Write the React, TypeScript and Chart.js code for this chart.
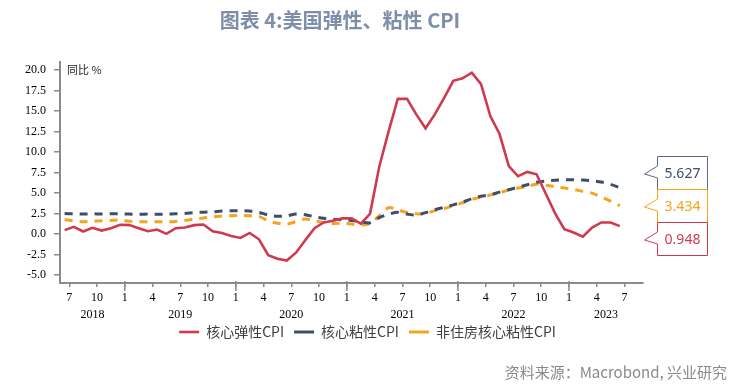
import React, { useEffect, useRef } from 'react';
import { Chart, registerables } from 'chart.js';

Chart.register(...registerables);

// ---------- data ----------
const startYear = 2018;
const startMonth = 6; // first observation: June 2018

const seriesNames = ['核心弹性CPI', '核心粘性CPI', '非住房核心粘性CPI'];

const elasticCPI = [
  0.46, 0.86, 0.29, 0.74, 0.41, 0.70, 1.11, 1.07, 0.70, 0.33,
  0.53, 0.00, 0.70, 0.78, 1.07, 1.15, 0.33, 0.12, -0.25, -0.49,
  0.12, -0.66, -2.59, -3.04, -3.25, -2.30, -0.78, 0.70, 1.40, 1.60,
  1.89, 1.89, 1.25, 2.45, 8.2, 12.5, 16.5, 16.5, 14.6, 12.9,
  14.6, 16.6, 18.7, 19.0, 19.7, 18.3, 14.4, 12.2, 8.27, 7.04,
  7.57, 7.28, 4.9, 2.5, 0.58, 0.16, -0.33, 0.78, 1.4, 1.4,
  0.948,
];

const stickyCPI = [
  2.5, 2.45, 2.42, 2.45, 2.42, 2.45, 2.45, 2.42, 2.4, 2.42,
  2.4, 2.42, 2.45, 2.5, 2.6, 2.65, 2.7, 2.8, 2.82, 2.84,
  2.8, 2.63, 2.3, 2.15, 2.2, 2.43, 2.35, 2.1, 1.9, 1.8,
  1.73, 1.65, 1.5, 1.35, 2.0, 2.4, 2.63, 2.43, 2.3, 2.6,
  2.95, 3.25, 3.55, 3.87, 4.3, 4.6, 4.8, 5.1, 5.4, 5.7,
  6.0, 6.3, 6.45, 6.55, 6.62, 6.62, 6.58, 6.5, 6.33, 6.05,
  5.627,
];

const nonHousingStickyCPI = [
  1.73, 1.6, 1.48, 1.55, 1.6, 1.65, 1.69, 1.55, 1.5, 1.48,
  1.48, 1.48, 1.52, 1.65, 1.81, 1.95, 2.05, 2.2, 2.22, 2.25,
  2.22, 2.14, 1.6, 1.3, 1.2, 1.5, 1.81, 1.6, 1.4, 1.27,
  1.3, 1.2, 1.07, 1.3, 2.2, 3.2, 2.9, 2.63, 2.45, 2.5,
  2.84, 3.1, 3.45, 3.8, 4.2, 4.5, 4.75, 4.98, 5.4, 5.6,
  5.8, 6.05, 5.95, 5.75, 5.6, 5.43, 5.2, 4.98, 4.5, 4.0,
  3.434,
];

const yTicks = [-5, -2.5, 0, 2.5, 5, 7.5, 10, 12.5, 15, 17.5, 20];
const years = ['2018', '2019', '2020', '2021', '2022', '2023'];
const xTickMonths = [6, 9, 12, 15, 18, 21, 24, 27, 30, 33, 36, 39, 42, 45, 48, 51, 54, 57, 60, 63, 66]; // months since Jan 2018
const X_MIN = 5;
const X_MAX = 68;
const Y_MIN = -6;
const Y_MAX = 21;

const TITLE = '图表 4:美国弹性、粘性 CPI';
const UNIT = '同比 %';
const SOURCE = '资料来源：Macrobond, 兴业研究';

// ---------- styles ----------
const RED = '#d03a4f';
const BLUE = '#3e4d6c';
const ORANGE = '#f6a31e';
const COLORS = [RED, BLUE, ORANGE];
const CALLOUT_BORDER = [RED, '#5d6c87', ORANGE];
const AXIS = '#8a8a8a';
const SERIF = '"Liberation Serif", "Times New Roman", serif';
const CJK = '"Noto Sans CJK SC", "Noto Sans", sans-serif';

const monthX = (i: number) => (startYear - 2018) * 12 + (startMonth - 1) + i + 0.5;
const toPoints = (arr: number[]) => arr.map((v, i) => ({ x: monthX(i), y: v }));

// year label positions: centre of the visible part of each year
const yearCenters = years.map((_, k) => (Math.max(k * 12, X_MIN) + Math.min((k + 1) * 12, X_MAX)) / 2);
const allXTicks = Array.from(new Set([...xTickMonths, ...yearCenters])).sort((a, b) => a - b);
const isMonthTick = (v: number) => xTickMonths.includes(v);
const xLabel = (v: number) => {
  const m = isMonthTick(v) ? String((v % 12) + 1) : '';
  const k = yearCenters.indexOf(v);
  return k >= 0 ? [m, years[k]] : m;
};

const textPlugin = {
  id: 'texts',
  afterDraw(chart: any) {
    const { ctx, chartArea, scales } = chart;
    ctx.save();
    // title
    ctx.fillStyle = '#7e8ea9';
    ctx.font = `bold 20px ${CJK}`;
    ctx.textAlign = 'center';
    ctx.textBaseline = 'middle';
    ctx.fillText(TITLE, 340, 20);
    // unit
    ctx.fillStyle = '#222';
    ctx.font = `11px ${CJK}`;
    ctx.textAlign = 'left';
    ctx.fillText(UNIT, chartArea.left + 7, chartArea.top + 8);
    // source
    ctx.fillStyle = '#8a8a8a';
    ctx.font = `15px ${CJK}`;
    ctx.textAlign = 'right';
    ctx.fillText(SOURCE, 727, 372);
    // year ticks (longer)
    const x = scales.x;
    ctx.strokeStyle = AXIS;
    ctx.lineWidth = 1.5;
    xTickMonths.forEach((m) => {
      if (m % 12 === 0) {
        const px = x.getPixelForValue(m);
        ctx.beginPath();
        ctx.moveTo(px, chartArea.bottom - 2);
        ctx.lineTo(px, chartArea.bottom + 8);
        ctx.stroke();
      }
    });
    ctx.restore();
  },
};

const calloutPlugin = {
  id: 'callouts',
  afterDraw(chart: any) {
    const { ctx, chartArea, scales } = chart;
    const y = scales.y;
    const items = chart.data.datasets.map((ds: any, i: number) => {
      const d = ds.data;
      return { value: d[d.length - 1].y as number, color: COLORS[i], border: CALLOUT_BORDER[i] };
    });
    items.sort((a: any, b: any) => b.value - a.value);
    const H = 33;
    const W = 50;
    const L = Math.round(chartArea.right) + 14.5;
    const cMid = y.getPixelForValue(items[1].value);
    ctx.save();
    items.forEach((it: any, k: number) => {
      const cy = Math.round(cMid + (k - 1) * H);
      const top = cy - H / 2;
      const bot = cy + H / 2;
      ctx.beginPath();
      ctx.moveTo(L, top);
      ctx.lineTo(L + W, top);
      ctx.lineTo(L + W, bot);
      ctx.lineTo(L, bot);
      ctx.lineTo(L, cy + 5);
      ctx.lineTo(L - 13, cy + 1);
      ctx.lineTo(L, cy - 7);
      ctx.closePath();
      ctx.fillStyle = '#ffffff';
      ctx.fill();
      ctx.strokeStyle = it.border;
      ctx.lineWidth = 1;
      ctx.stroke();
      ctx.fillStyle = it.color;
      ctx.font = `14px "Noto Sans", sans-serif`;
      ctx.textAlign = 'center';
      ctx.textBaseline = 'middle';
      ctx.fillText(it.value.toFixed(3), L + W / 2, cy + 1);
    });
    ctx.restore();
  },
};

export default function App() {
  const ref = useRef<HTMLCanvasElement | null>(null);

  useEffect(() => {
    if (!ref.current) return;
    const chart = new Chart(ref.current, {
      type: 'line',
      data: {
        datasets: [
          {
            label: seriesNames[0],
            data: toPoints(elasticCPI),
            borderColor: RED,
            backgroundColor: RED,
            borderWidth: 2.6,
            pointRadius: 0,
            tension: 0,
          },
          {
            label: seriesNames[1],
            data: toPoints(stickyCPI),
            borderColor: BLUE,
            backgroundColor: BLUE,
            borderWidth: 3,
            borderDash: [8, 7],
            pointRadius: 0,
            tension: 0.3,
          },
          {
            label: seriesNames[2],
            data: toPoints(nonHousingStickyCPI),
            borderColor: ORANGE,
            backgroundColor: ORANGE,
            borderWidth: 3,
            borderDash: [8, 7],
            pointRadius: 0,
            tension: 0.3,
          },
        ] as any,
      },
      options: {
        responsive: false,
        animation: false,
        layout: { padding: { top: 62, left: 0, right: 0, bottom: 41 } },
        plugins: {
          title: { display: false },
          tooltip: { enabled: false },
          legend: {
            position: 'bottom',
            labels: {
              usePointStyle: true,
              pointStyle: 'line',
              pointStyleWidth: 20,
              boxHeight: 14,
              padding: 10,
              color: '#404040',
              font: { family: CJK, size: 14 },
            },
          },
        },
        scales: {
          x: {
            type: 'linear',
            min: X_MIN,
            max: X_MAX,
            afterBuildTicks: (s: any) => {
              s.ticks = allXTicks.map((v) => ({ value: v }));
            },
            afterFit: (s: any) => {
              s.height = 32;
              // let the two-line (month / year) labels draw below the axis box
              s._computeLabelArea = () => undefined;
            },
            ticks: {
              autoSkip: false,
              maxRotation: 0,
              padding: 2,
              color: '#000',
              font: { family: SERIF, size: 12, lineHeight: 1.42 },
              callback: (v: any) => xLabel(Number(v)),
            },
            grid: {
              display: true,
              drawOnChartArea: false,
              drawTicks: true,
              tickLength: 4,
              color: (c: any) => (c.tick && !isMonthTick(c.tick.value) ? 'rgba(0,0,0,0)' : AXIS),
              lineWidth: 1.5,
            },
            border: { display: true, color: AXIS, width: 2 },
          },
          y: {
            min: Y_MIN,
            max: Y_MAX,
            afterBuildTicks: (s: any) => {
              s.ticks = yTicks.map((v) => ({ value: v }));
            },
            afterFit: (s: any) => {
              s.width = 60;
            },
            ticks: {
              padding: 8,
              color: '#000',
              font: { family: SERIF, size: 12 },
              callback: (v: any) => Number(v).toFixed(1),
            },
            grid: { display: true, drawOnChartArea: false, drawTicks: true, tickLength: 6, color: AXIS, lineWidth: 1.5 },
            border: { display: true, color: AXIS, width: 2 },
          },
          y2: {
            position: 'right',
            display: true,
            min: 0,
            max: 1,
            afterFit: (s: any) => {
              s.width = 92;
            },
            ticks: { display: false },
            grid: { display: false },
            border: { display: false },
          },
        },
      } as any,
      plugins: [textPlugin, calloutPlugin],
    });
    return () => chart.destroy();
  }, []);

  return (
    <div style={{ position: 'fixed', left: 0, top: 0, width: 735, height: 390, background: '#fff' }}>
      <canvas ref={ref} width={735} height={390} style={{ display: 'block' }} />
    </div>
  );
}
